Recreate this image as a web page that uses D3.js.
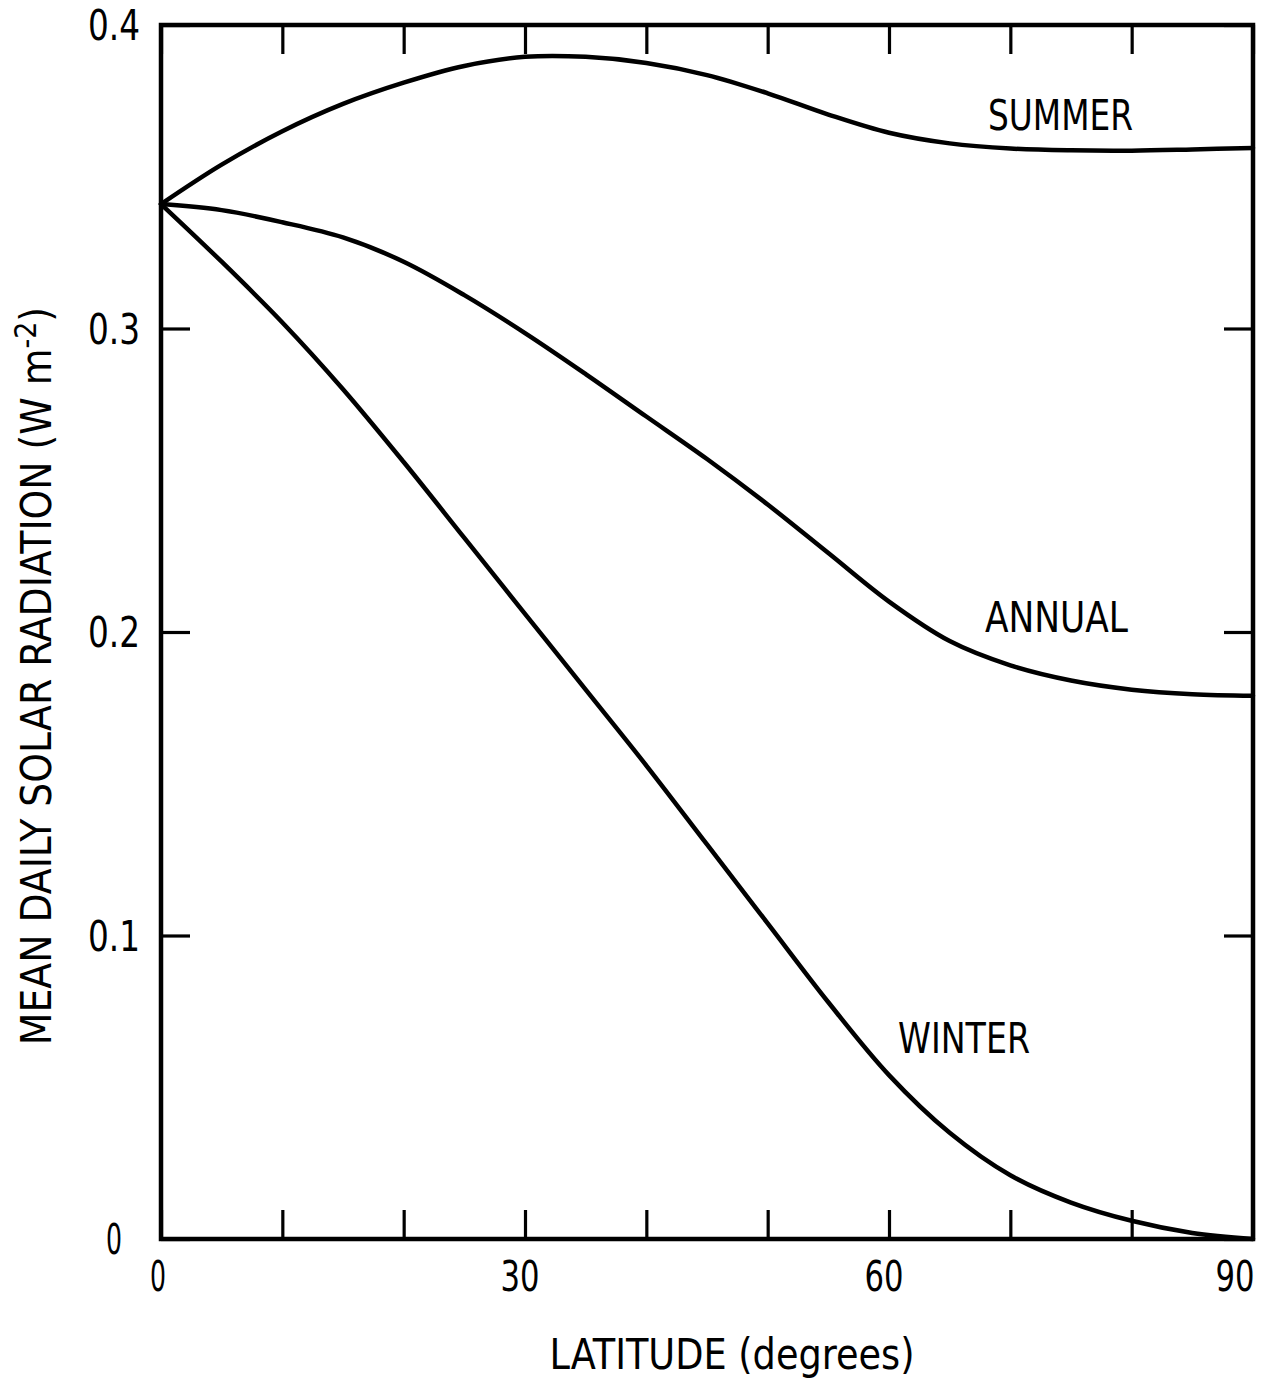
<!DOCTYPE html>
<html>
<head>
<meta charset="utf-8">
<script src="https://cdn.jsdelivr.net/npm/d3@7"></script>
<style>
  html, body { margin: 0; padding: 0; background: #fff; }
  svg { display: block; }
  text { font-family: "DejaVu Sans Condensed", "Liberation Sans Narrow", "DejaVu Sans", sans-serif; fill: #000; }
</style>
</head>
<body>
<script>
// ---- data ----
const latitudes = [0, 5, 10, 15, 20, 25, 30, 35, 40, 45, 50, 55, 60, 65, 70, 75, 80, 85, 90];
const summer = [0.341, 0.354, 0.365, 0.374, 0.381, 0.3865, 0.3895, 0.3895, 0.3875, 0.3835, 0.3775, 0.3705, 0.3645, 0.361, 0.3593, 0.3587, 0.3586, 0.359, 0.3595];
const annual = [0.341, 0.339, 0.335, 0.330, 0.322, 0.311, 0.2985, 0.285, 0.271, 0.257, 0.242, 0.226, 0.210, 0.197, 0.189, 0.184, 0.181, 0.1795, 0.179];
const winter = [0.341, 0.322, 0.302, 0.280, 0.256, 0.231, 0.206, 0.181, 0.156, 0.130, 0.104, 0.078, 0.054, 0.035, 0.021, 0.012, 0.006, 0.002, 0.000];
const seriesNames = ["SUMMER", "ANNUAL", "WINTER"];
const xTicks = [0, 10, 20, 30, 40, 50, 60, 70, 80, 90];
const xTickLabels = [0, 30, 60, 90];
const yTicks = [0, 0.1, 0.2, 0.3, 0.4];
const xTitle = "LATITUDE (degrees)";
const yTitle = "MEAN DAILY SOLAR RADIATION (W m";

const W = 1267, H = 1379;
const m = { left: 161, right: W - 1253, top: 25, bottom: H - 1239 };

const svg = d3.select("body").append("svg").attr("width", W).attr("height", H);

const x = d3.scaleLinear().domain([0, 90]).range([m.left, W - m.right]);
const y = d3.scaleLinear().domain([0, 0.4]).range([H - m.bottom, m.top]);

const tickLen = 29;
const fs = 42;

// axes (ticks inward)
const gB = svg.append("g").attr("transform", `translate(0,${y(0)})`)
  .call(d3.axisBottom(x).tickValues(xTicks).tickSizeInner(-tickLen).tickSizeOuter(0).tickFormat(""));
const gT = svg.append("g").attr("transform", `translate(0,${y(0.4)})`)
  .call(d3.axisTop(x).tickValues(xTicks).tickSizeInner(-tickLen).tickSizeOuter(0).tickFormat(""));
const gL = svg.append("g").attr("transform", `translate(${x(0)},0)`)
  .call(d3.axisLeft(y).tickValues(yTicks).tickSizeInner(-tickLen).tickSizeOuter(0).tickFormat(""));
const gR = svg.append("g").attr("transform", `translate(${x(90)},0)`)
  .call(d3.axisRight(y).tickValues(yTicks).tickSizeInner(-tickLen).tickSizeOuter(0).tickFormat(""));
[gB, gT, gL, gR].forEach(g => {
  g.select(".domain").remove();
  g.selectAll(".tick line").attr("stroke", "#000").attr("stroke-width", 3.2);
});

// frame
svg.append("rect")
  .attr("x", x(0)).attr("y", y(0.4))
  .attr("width", x(90) - x(0)).attr("height", y(0) - y(0.4))
  .attr("fill", "none").attr("stroke", "#000").attr("stroke-width", 4.5);

// tick labels
svg.append("g").selectAll("text").data(xTickLabels).join("text")
  .attr("x", d => x(d) - (d === 90 ? 18 : d === 0 ? 3 : 5))
  .attr("y", 1291)
  .attr("text-anchor", "middle")
  .attr("font-size", fs)
  .attr("textLength", d => d === 0 ? 16 : 39)
  .attr("lengthAdjust", "spacingAndGlyphs")
  .text(d => d);

svg.append("g").selectAll("text").data(yTicks).join("text")
  .attr("x", d => d === 0 ? 122 : 140)
  .attr("y", d => y(d) + 15)
  .attr("text-anchor", "end")
  .attr("font-size", fs)
  .attr("textLength", d => d === 0 ? 16 : 52)
  .attr("lengthAdjust", "spacingAndGlyphs")
  .text(d => d === 0 ? "0" : d3.format(".1f")(d));

// axis titles
svg.append("text")
  .attr("x", 732).attr("y", 1369)
  .attr("text-anchor", "middle")
  .attr("font-size", fs)
  .attr("textLength", 365)
  .attr("lengthAdjust", "spacingAndGlyphs")
  .text(xTitle);

const yt = svg.append("text")
  .attr("transform", `translate(51,${676}) rotate(-90)`)
  .attr("text-anchor", "middle")
  .attr("font-size", fs);
yt.append("tspan").text(yTitle);
yt.append("tspan").attr("dy", -15).attr("font-size", 30).text("-2");
yt.append("tspan").attr("dy", 15).text(")");

// curves
const line = d3.line()
  .x((d, i) => x(latitudes[i]))
  .y(d => y(d))
  .curve(d3.curveCatmullRom.alpha(0.5));

[summer, annual, winter].forEach(s => {
  svg.append("path")
    .attr("d", line(s))
    .attr("fill", "none")
    .attr("stroke", "#000")
    .attr("stroke-width", 4.5)
    .attr("stroke-linejoin", "round")
    .attr("stroke-linecap", "round");
});

// series labels
const labelPos = [
  { x: 988, y: 130, w: 145 },
  { x: 985, y: 632, w: 143 },
  { x: 898, y: 1053, w: 132 }
];
svg.append("g").selectAll("text").data(seriesNames).join("text")
  .attr("x", (d, i) => labelPos[i].x)
  .attr("y", (d, i) => labelPos[i].y)
  .attr("font-size", 42)
  .attr("textLength", (d, i) => labelPos[i].w)
  .attr("lengthAdjust", "spacingAndGlyphs")
  .text(d => d);
</script>
</body>
</html>
